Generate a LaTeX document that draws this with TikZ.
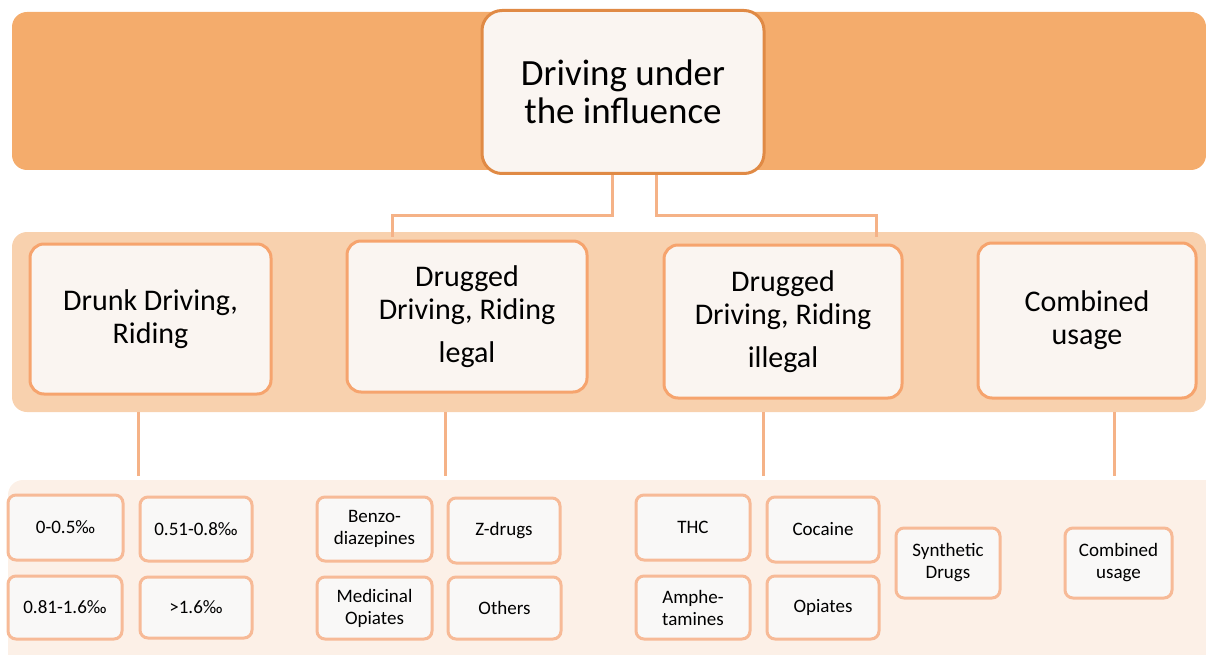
\documentclass[tikz,border=0pt]{standalone}
\usepackage{fontspec}
\setmainfont{Carlito}
\definecolor{topband}{HTML}{F4AC6C}
\definecolor{midband}{HTML}{F8D1AE}
\definecolor{lowband}{HTML}{FCF0E7}
\definecolor{boxfill}{HTML}{FAF5F1}
\definecolor{leaffill}{HTML}{F9F8F7}
\definecolor{rootline}{HTML}{E08A45}
\definecolor{catline}{HTML}{F6A46E}
\definecolor{leafline}{HTML}{F7BA97}
\definecolor{linkline}{HTML}{F5B287}
\begin{document}
\begin{tikzpicture}[x=1pt, y=-1pt,
    band/.style={rounded corners=15pt},
    rootbox/.style={draw=rootline, line width=3pt, fill=boxfill, rounded corners=20pt,
        minimum width=282pt, minimum height=163pt, align=center, inner sep=0pt,
        font=\fontsize{37}{38}\selectfont},
    catbox/.style={draw=catline, line width=3pt, fill=boxfill, rounded corners=14pt,
        align=center, inner sep=0pt, font=\fontsize{30}{33}\selectfont},
    leafbox/.style={draw=leafline, line width=3pt, fill=leaffill, rounded corners=8pt,
        align=center, inner sep=0pt, font=\fontsize{19}{22}\selectfont},
    link/.style={draw=linkline, line width=3pt}]
    \useasboundingbox (0,0) rectangle (1206,655);

    % Background bands
    \fill[topband, band] (12,12) rectangle (1206,170);
    \fill[midband, band] (12,232) rectangle (1206,412);
    \fill[lowband, band] (8,480) rectangle (1226,680);

    % Root node
    \node[rootbox] (root) at (623,92) {Driving under\\the influence};

    % Category nodes
    \node[catbox, minimum width=241pt, minimum height=150pt] (drunk) at (150.5,319) {Drunk Driving,\\Riding};
    \node[catbox, minimum width=240pt, minimum height=151pt] (legal) at (467,316.5) {Drugged\\Driving, Riding\\[10pt]legal};
    \node[catbox, minimum width=238pt, minimum height=153pt] (illegal) at (783,321.5) {Drugged\\Driving, Riding\\[10pt]illegal};
    \node[catbox, minimum width=218pt, minimum height=155pt] (combined) at (1087,320.5) {Combined\\usage};

    % Alcohol levels
    \node[leafbox, minimum width=115pt, minimum height=65pt] (lvlA) at (65.5,527.5) {0-0.5‰};
    \node[leafbox, minimum width=112pt, minimum height=64pt] (lvlB) at (196,529) {0.51-0.8‰};
    \node[leafbox, minimum width=114pt, minimum height=63pt] (lvlC) at (65,607.5) {0.81-1.6‰};
    \node[leafbox, minimum width=112pt, minimum height=61pt] (lvlD) at (196,607.5) {>1.6‰};

    % Legal drugs
    \node[leafbox, minimum width=115pt, minimum height=64pt] (benzo) at (374.5,529) {Benzo-\\diazepines};
    \node[leafbox, minimum width=112pt, minimum height=65pt] (zdrugs) at (504,530.5) {Z-drugs};
    \node[leafbox, minimum width=115pt, minimum height=62pt] (medop) at (374.5,608) {Medicinal\\Opiates};
    \node[leafbox, minimum width=113pt, minimum height=62pt] (others) at (504.5,608) {Others};

    % Illegal drugs
    \node[leafbox, minimum width=114pt, minimum height=65pt] (thc) at (693,527.5) {THC};
    \node[leafbox, minimum width=112pt, minimum height=65pt] (cocaine) at (823,529.5) {Cocaine};
    \node[leafbox, minimum width=114pt, minimum height=63pt] (amph) at (693,607.5) {Amphe-\\tamines};
    \node[leafbox, minimum width=112pt, minimum height=63pt] (opiates) at (823,607.5) {Opiates};
    \node[leafbox, minimum width=104pt, minimum height=70pt] (synth) at (948,563) {Synthetic\\Drugs};

    % Combined
    \node[leafbox, minimum width=107pt, minimum height=70pt] (combo) at (1118.5,563) {Combined\\usage};

    % Connectors from the root
    \coordinate (legalturn) at (392,215);
    \coordinate (legalend) at (392,237);
    \coordinate (illegalturn) at (876,215);
    \coordinate (illegalend) at (876,237);
    \draw[link] ([xshift=-11pt]root.south) |- (legalturn) -- (legalend);
    \draw[link] ([xshift=33pt]root.south) |- (illegalturn) -- (illegalend);

    % Connectors between the bands
    \foreach \name/\x in {drunk/138, legal/445, illegal/763, combined/1114} {
        \coordinate (\name top) at (\x,412);
        \coordinate (\name low) at (\x,476);
        \draw[link] (\name top) -- (\name low);
    }
\end{tikzpicture}
\end{document}
